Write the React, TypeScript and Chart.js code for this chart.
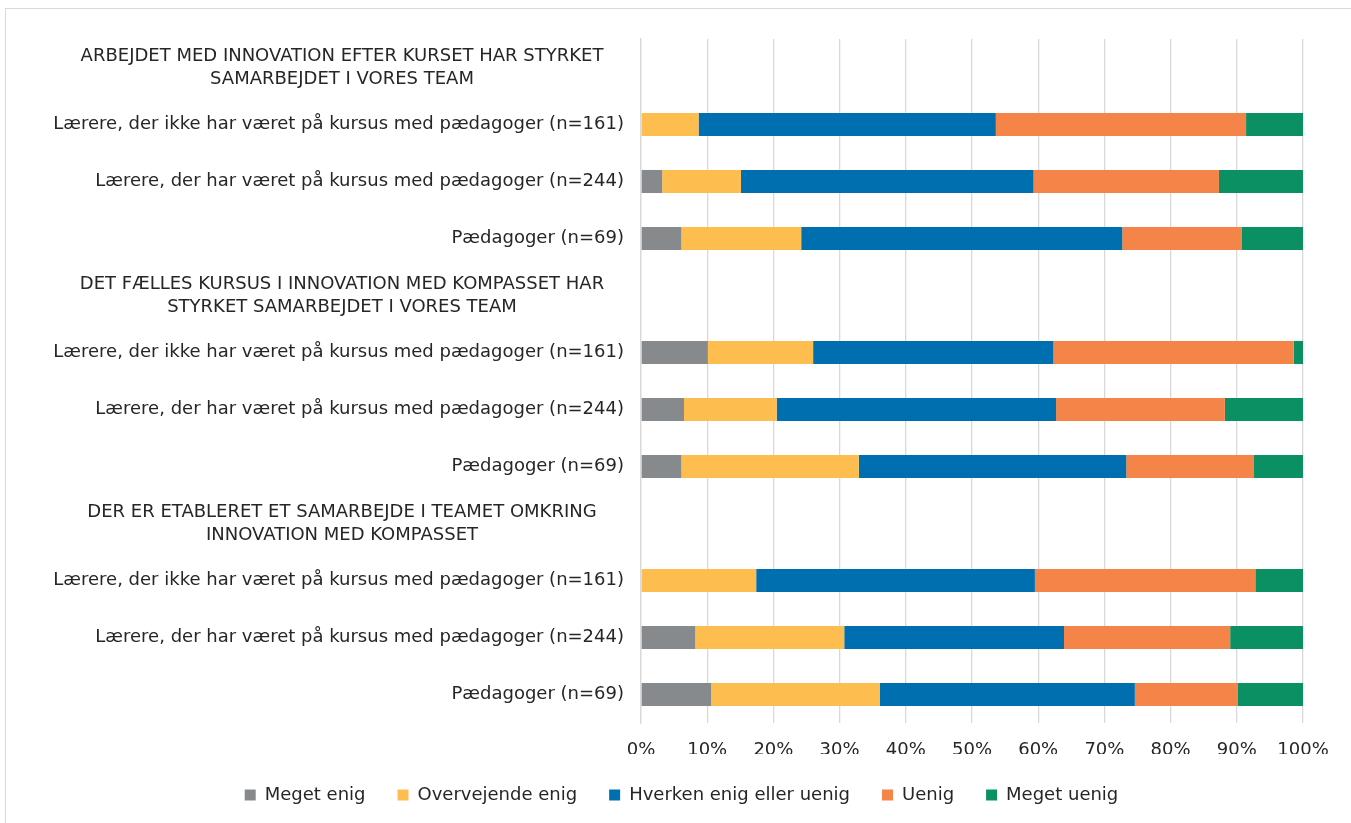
import React, { useEffect, useRef } from "react";
import { Chart, registerables } from "chart.js";

Chart.register(...registerables);

const categories: (string | string[])[] = [
  ["ARBEJDET MED INNOVATION EFTER KURSET HAR STYRKET", "SAMARBEJDET I VORES TEAM"],
  "Lærere, der ikke har været på kursus med pædagoger (n=161)",
  "Lærere, der har været på kursus med pædagoger (n=244)",
  "Pædagoger (n=69)",
  ["DET FÆLLES KURSUS I INNOVATION MED KOMPASSET HAR", "STYRKET SAMARBEJDET I VORES TEAM"],
  "Lærere, der ikke har været på kursus med pædagoger (n=161)",
  "Lærere, der har været på kursus med pædagoger (n=244)",
  "Pædagoger (n=69)",
  ["DER ER ETABLERET ET SAMARBEJDE I TEAMET OMKRING", "INNOVATION MED KOMPASSET"],
  "Lærere, der ikke har været på kursus med pædagoger (n=161)",
  "Lærere, der har været på kursus med pædagoger (n=244)",
  "Pædagoger (n=69)",
];

const seriesNames = ["Meget enig", "Overvejende enig", "Hverken enig eller uenig", "Uenig", "Meget uenig"];

const megetEnig = [null, 0, 3.2, 6.1, null, 10.1, 6.5, 6.1, null, 0, 8.2, 10.6];
const overvejendeEnig = [null, 8.7, 11.9, 18.1, null, 15.9, 14.0, 26.8, null, 17.4, 22.5, 25.5];
const hverken = [null, 44.9, 44.2, 48.5, null, 36.3, 42.2, 40.4, null, 42.1, 33.2, 38.5];
const uenig = [null, 37.8, 28.0, 18.0, null, 36.3, 25.5, 19.3, null, 33.3, 25.1, 15.5];
const megetUenig = [null, 8.6, 12.7, 9.3, null, 1.4, 11.8, 7.4, null, 7.2, 11.0, 9.9];

const xTicks = [0, 10, 20, 30, 40, 50, 60, 70, 80, 90, 100];

const colors = ["#878A8D", "#FDBE4F", "#006FAF", "#F48448", "#0A9063"];

const FONT = '"DejaVu Sans", Verdana, sans-serif';
const FS = 18;
const TEXT = "#262626";

const labelPlugin = {
  id: "yLabels",
  afterLayout(chart: any) {
    const lg = chart.legend;
    if (lg) {
      lg.left += 27;
      lg.right += 27;
    }
  },
  afterDraw(chart: any) {
    const ctx = chart.ctx;
    const y = chart.scales.y;
    const right = chart.chartArea.left - 17;
    ctx.save();
    ctx.font = `${FS}px ${FONT}`;
    ctx.fillStyle = TEXT;
    ctx.textBaseline = "middle";
    categories.forEach((lab, i) => {
      const cy = y.getPixelForValue(i);
      if (Array.isArray(lab)) {
        ctx.textAlign = "center";
        const cx = 336;
        const lh = 23;
        lab.forEach((line, k) => {
          ctx.fillText(line, cx, cy + (k - (lab.length - 1) / 2) * lh);
        });
      } else {
        ctx.textAlign = "right";
        ctx.fillText(lab, right, cy);
      }
    });
    ctx.restore();
  },
};

export default function App() {
  const ref = useRef<HTMLCanvasElement | null>(null);
  useEffect(() => {
    if (!ref.current) return;
    const series = [megetEnig, overvejendeEnig, hverken, uenig, megetUenig];
    const chart = new Chart(ref.current, {
      type: "bar",
      data: {
        labels: categories.map((c) => (Array.isArray(c) ? c.join(" ") : c)),
        datasets: series.map((d, i) => ({
          label: seriesNames[i],
          data: d,
          backgroundColor: colors[i],
          borderWidth: 0,
          barPercentage: 0.5,
          categoryPercentage: 0.81,
        })),
      },
      options: {
        indexAxis: "y",
        animation: false,
        responsive: true,
        maintainAspectRatio: false,
        layout: { padding: { left: 0, right: 49, top: 30, bottom: 10 } },
        plugins: {
          tooltip: { enabled: false },
          legend: {
            position: "bottom",
            labels: {
              boxWidth: 11,
              boxHeight: 11,
              padding: 32,
              color: TEXT,
              font: { family: FONT, size: FS },
            },
          },
        },
        scales: {
          x: {
            stacked: true,
            min: 0,
            max: 100,
            afterBuildTicks(scale: any) {
              scale.ticks = xTicks.map((v) => ({ value: v }));
            },
            afterFit(scale: any) {
              scale.height = 31;
            },
            ticks: {
              color: TEXT,
              font: { family: FONT, size: FS },
              padding: 17,
              callback: (v: any) => `${v}%`,
            },
            grid: { color: "#D9D9D9", lineWidth: 1.3, drawTicks: false },
            border: { display: false },
          },
          y: {
            stacked: true,
            ticks: { display: false },
            grid: { display: false },
            border: { display: true, color: "#D9D9D9", width: 1.3 },
            afterFit(scale: any) {
              scale.width = 635;
            },
          },
        },
      },
      plugins: [labelPlugin],
    } as any);
    return () => chart.destroy();
  }, []);
  return (
    <div
      style={{
        position: "absolute",
        left: 5,
        top: 8,
        width: 1346,
        height: 815,
        borderTop: "1px solid #D9D9D9",
        borderLeft: "1px solid #D9D9D9",
        background: "#fff",
      }}
    >
      <canvas ref={ref} />
    </div>
  );
}
